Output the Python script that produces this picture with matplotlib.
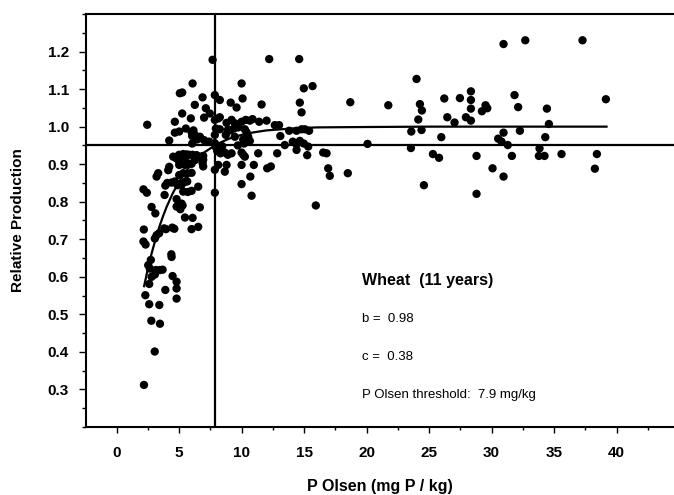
import matplotlib
matplotlib.use('Agg')
import matplotlib.pyplot as plt
from matplotlib.ticker import MultipleLocator, FormatStrFormatter

plt.rcParams['font.family'] = ['Liberation Sans', 'DejaVu Sans']

# Observations (P Olsen mg/kg, relative production)
p_olsen = [
    2.19, 3.05, 2.78, 3.47, 2.61, 3.42, 2.30, 4.80, 3.90, 4.80,
    4.80, 2.61, 4.48, 2.80, 3.06, 2.53, 2.66, 3.14, 3.46, 3.68,
    2.74, 4.38, 4.40, 2.15, 2.32, 2.18, 3.06, 3.20, 3.40, 3.81,
    3.95, 4.45, 4.62, 6.00, 6.53,
    2.80, 3.10, 5.47, 6.08, 4.80, 5.10, 5.20, 5.28, 6.66, 2.15,
    2.42, 3.84, 4.80, 5.33, 5.70, 6.00, 3.90, 4.05, 4.40, 4.66,
    4.88, 5.20, 5.65, 6.53, 3.20, 3.33, 5.01, 5.33, 6.00, 4.13,
    5.60, 5.47,
    4.21, 5.01, 5.01, 5.46, 5.75, 6.00, 6.27, 6.88, 6.93, 6.93,
    4.53, 5.00, 5.33, 5.60, 5.81, 6.08, 6.40, 5.46, 6.26, 6.72,
    4.80, 6.93, 6.05, 4.21, 6.45, 7.00, 7.41,
    2.45, 4.66, 4.66, 5.01, 5.25, 5.06, 5.25, 6.08, 6.26, 5.94,
    5.54, 6.00, 6.15, 6.26, 6.05, 6.88, 7.14, 7.46, 7.00, 6.67,
    7.68,
    7.86, 8.26, 7.86, 8.13, 8.26, 7.94, 8.26, 8.80, 7.86, 8.74,
    8.90, 7.86, 7.95, 8.05, 8.30, 8.66, 8.45, 7.86, 7.86, 8.13,
    8.80, 8.66, 8.90, 9.13, 9.60, 9.20, 9.46, 9.10, 9.40, 9.20,
    9.73, 10.26, 10.40, 9.46, 10.13, 10.53, 10.66, 9.70, 10.20,
    10.00, 10.08, 10.00, 10.34, 10.66, 10.88, 11.41, 12.00, 11.60, 12.21,
    12.66, 13.00, 13.10, 13.81, 14.40, 14.80, 15.06, 15.40, 13.46, 14.10,
    14.40, 14.66, 14.98, 15.33, 14.61, 14.98, 15.68, 14.66, 14.80, 10.00,
    10.13, 10.26, 11.33, 12.85, 14.40, 15.25, 16.53, 16.80, 10.00, 10.98,
    12.05, 12.34, 16.93, 10.70, 17.06, 10.00, 10.80, 15.94,
    18.50, 18.70, 20.08, 21.74, 24.00, 24.27, 24.43, 24.14, 23.58, 24.40,
    23.55, 24.59, 25.31, 25.80, 25.98, 26.22, 26.46, 27.04, 27.47, 27.95,
    28.35, 28.35, 28.35, 28.35, 28.80, 28.80, 29.23, 29.52, 29.66, 30.08,
    30.53, 30.80, 30.96, 30.96, 30.96, 31.30, 31.63, 31.84, 32.13, 32.27,
    32.70, 33.84, 33.79, 34.24, 34.30, 34.43, 34.59, 35.60, 37.28, 38.27,
    38.43, 39.15,
]
rel_prod = [
    0.312, 0.401, 0.483, 0.475, 0.527, 0.525, 0.551, 0.542, 0.565, 0.569,
    0.587, 0.581, 0.602, 0.600, 0.606, 0.631, 0.622, 0.618, 0.618, 0.619,
    0.645, 0.660, 0.653, 0.694, 0.686, 0.726, 0.702, 0.711, 0.716, 0.729,
    0.727, 0.731, 0.728, 0.727, 0.733,
    0.786, 0.769, 0.758, 0.757, 0.787, 0.780, 0.795, 0.790, 0.785, 0.833,
    0.824, 0.818, 0.807, 0.827, 0.826, 0.829, 0.843, 0.850, 0.851, 0.854,
    0.844, 0.845, 0.854, 0.840, 0.867, 0.876, 0.871, 0.876, 0.877, 0.884,
    0.874, 0.853,
    0.893, 0.898, 0.907, 0.898, 0.902, 0.901, 0.911, 0.903, 0.894, 0.912,
    0.920, 0.925, 0.927, 0.926, 0.925, 0.925, 0.924, 0.918, 0.916, 0.920,
    0.915, 0.922, 0.955, 0.963, 0.966, 0.964, 0.960,
    1.005, 1.013, 0.984, 0.987, 1.035, 1.089, 1.091, 1.115, 1.058, 1.022,
    0.995, 0.985, 0.990, 0.978, 0.975, 1.078, 1.049, 1.035, 1.024, 0.973,
    1.178,
    1.084, 1.071, 1.018, 1.022, 1.025, 0.995, 0.993, 1.010, 0.978, 0.978,
    0.991, 0.956, 0.945, 0.935, 0.929, 0.931, 0.948, 0.885, 0.824, 0.898,
    0.898, 0.880, 0.925, 1.064, 1.051, 1.018, 1.009, 0.990, 0.995, 0.929,
    0.998, 0.993, 0.985, 0.973, 0.966, 0.973, 0.962, 0.950, 0.955,
    1.115, 1.075, 1.013, 1.018, 1.016, 1.020, 1.013, 1.016, 1.059, 1.180,
    1.004, 1.004, 0.975, 0.989, 0.989, 0.993, 0.993, 0.989, 0.951, 0.960,
    0.953, 0.962, 0.955, 0.947, 1.180, 1.102, 1.108, 1.064, 1.038, 0.931,
    0.925, 0.920, 0.929, 0.929, 0.938, 0.924, 0.931, 0.929, 0.898, 0.898,
    0.889, 0.894, 0.889, 0.867, 0.869, 0.847, 0.816, 0.790,
    0.876, 1.065, 0.954, 1.057, 1.127, 1.060, 1.043, 1.019, 0.987, 0.991,
    0.943, 0.844, 0.927, 0.917, 0.972, 1.075, 1.025, 1.011, 1.076, 1.025,
    1.016, 1.094, 1.071, 1.048, 0.922, 0.821, 1.041, 1.057, 1.049, 0.889,
    0.968, 0.960, 0.984, 1.220, 0.867, 0.951, 0.922, 1.084, 1.052, 0.989,
    1.230, 0.942, 0.922, 0.922, 0.972, 1.048, 1.007, 0.927, 1.230, 0.888,
    0.927, 1.073,
]

# Fitted response curve
curve_x = [2.2, 2.5, 2.8, 3.1, 3.4, 3.7, 4.0, 4.5, 5.0, 5.5, 6.0, 6.5,
           7.0, 8.0, 9.0, 10.0, 11.0, 12.0, 14.0, 16.0, 20.0, 25.0, 39.2]
curve_y = [0.575, 0.621, 0.662, 0.698, 0.731, 0.760, 0.786, 0.823, 0.853,
           0.879, 0.900, 0.917, 0.931, 0.953, 0.968, 0.978, 0.985, 0.990,
           0.995, 0.998, 0.999, 1.000, 1.000]

threshold_x = 7.9
threshold_y = 0.95
info_title = 'Wheat  (11 years)'
info_lines = ['b =  0.98', 'c =  0.38', 'P Olsen threshold:  7.9 mg/kg']

fig = plt.figure(figsize=(6.74, 4.95), dpi=100)
ax = fig.add_axes([0.127, 0.1374, 0.873, 0.8343])

ax.scatter(p_olsen, rel_prod, s=36, color='black', edgecolors='none', zorder=3)
ax.plot(curve_x, curve_y, color='black', lw=1.6, zorder=4)
ax.axvline(threshold_x, color='black', lw=1.6, zorder=2)
ax.axhline(threshold_y, color='black', lw=1.6, zorder=2)

ax.set_xlim(-2.48, 44.6)
ax.set_ylim(0.2, 1.3)

ax.xaxis.set_minor_locator(MultipleLocator(2.5))
ax.yaxis.set_minor_locator(MultipleLocator(0.05))
ax.yaxis.set_major_formatter(FormatStrFormatter('%.1f'))
ax.set_xticks([0, 5, 10, 15, 20, 25, 30, 35, 40])
ax.set_yticks([0.3, 0.4, 0.5, 0.6, 0.7, 0.8, 0.9, 1.0, 1.1, 1.2])

ax.tick_params(axis='x', which='major', length=4, width=1, pad=10,
               labelsize=11)
ax.tick_params(axis='x', which='minor', length=2.5, width=1)
ax.tick_params(axis='y', which='major', length=5, width=1, pad=7,
               labelsize=11)
ax.tick_params(axis='y', which='minor', length=3, width=1)
for lab in ax.get_xticklabels() + ax.get_yticklabels():
    lab.set_fontweight('bold')

ax.spines['right'].set_visible(False)
for s in ['left', 'top', 'bottom']:
    ax.spines[s].set_linewidth(1.5)

ax.set_xlabel('P Olsen (mg P / kg)', fontsize=11.5, fontweight='bold')
ax.set_ylabel('Relative Production', fontsize=11, fontweight='bold')
ax.xaxis.set_label_coords(0.5, -0.125)
ax.yaxis.set_label_coords(-0.103, 0.5)

ax.text(19.6, 0.591, info_title, fontsize=11.5, fontweight='bold', va='center')
for txt, yy in zip(info_lines, [0.487, 0.387, 0.285]):
    ax.text(19.6, yy, txt, fontsize=9.5, va='center')

fig.savefig('out.png', dpi=100)
